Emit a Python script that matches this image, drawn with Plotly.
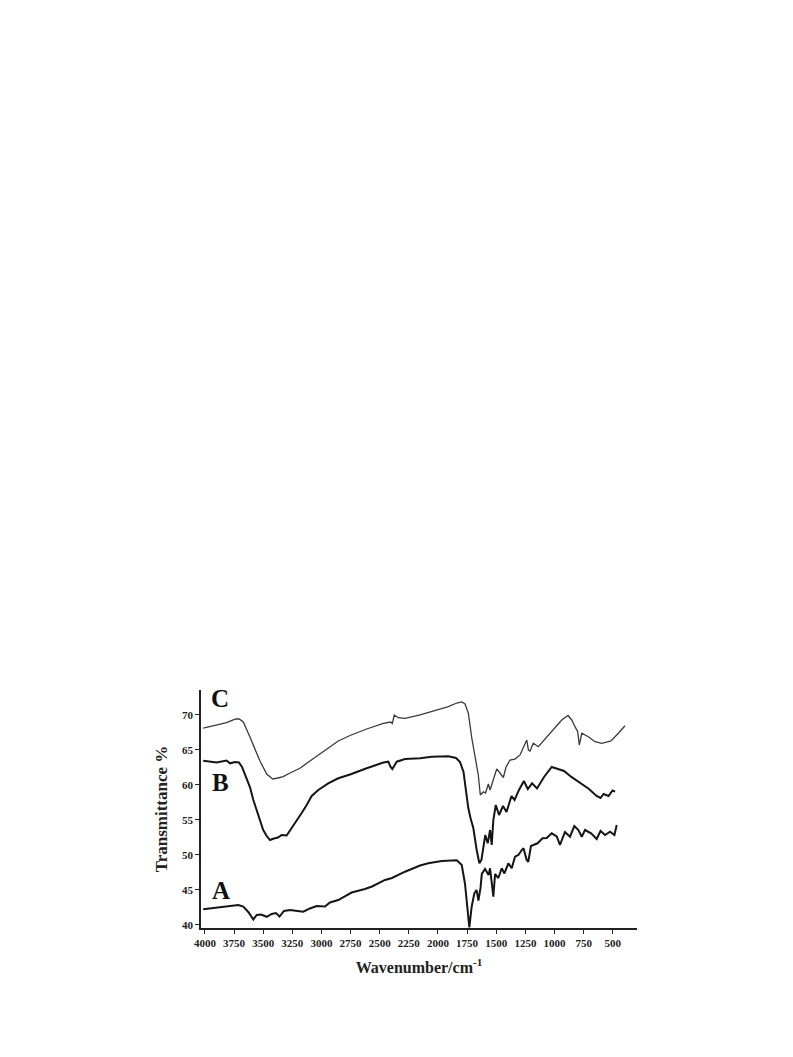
import plotly.graph_objects as go

# Spectrum C (top)
wn_C = [4015, 3914, 3814, 3757, 3734, 3706, 3671, 3614, 3571, 3528, 3470, 3419, 3373, 3328,
        3270, 3185, 3099, 3027, 2942, 2856, 2755, 2612, 2469, 2406, 2392, 2375, 2341, 2283,
        2154, 2054, 1911, 1839, 1796, 1768, 1740, 1710, 1691, 1673, 1654, 1637, 1611, 1592,
        1568, 1553, 1525, 1496, 1468, 1439, 1416, 1382, 1339, 1296, 1238, 1224, 1210, 1182,
        1139, 1096, 1053, 995, 938, 884, 852, 824, 801, 787, 766, 710, 652, 595, 515, 452, 395]
tr_C = [68.14, 68.5, 68.9, 69.29, 69.43, 69.43, 69.0, 66.86, 65.0, 63.43, 61.57, 60.86, 61.0, 61.19,
        61.71, 62.39, 63.43, 64.29, 65.29, 66.29, 67.07, 68.0, 68.79, 69.0, 68.79, 70.0, 69.61, 69.53,
        70.0, 70.47, 71.19, 71.71, 71.86, 71.57, 70.29, 66.71, 65.0, 63.57, 61.43, 58.57, 59.04, 58.86,
        60.14, 59.29, 60.86, 62.29, 61.71, 61.07, 62.57, 63.57, 63.71, 64.29, 66.43, 65.0, 64.86, 65.96,
        65.47, 66.29, 67.14, 68.1, 69.29, 69.93, 69.29, 68.33, 67.61, 65.71, 67.39, 66.9, 66.19, 65.96,
        66.29, 67.39, 68.47]

# Spectrum B (middle)
wn_B = [4015, 3900, 3815, 3785, 3742, 3708, 3682, 3642, 3614, 3585, 3556, 3528, 3500, 3470, 3442,
        3408, 3373, 3342, 3299, 3256, 3213, 3170, 3127, 3084, 3027, 2942, 2856, 2755, 2612, 2469,
        2426, 2408, 2392, 2354, 2283, 2154, 2054, 1911, 1845, 1811, 1781, 1762, 1740, 1721, 1697,
        1668, 1645, 1627, 1610, 1594, 1573, 1553, 1539, 1525, 1504, 1476, 1442, 1412, 1369, 1343,
        1305, 1263, 1229, 1193, 1150, 1090, 1024, 978, 918, 858, 795, 752, 704, 639, 605, 579, 536,
        502, 480]
tr_B = [63.47, 63.21, 63.5, 63.1, 63.29, 63.21, 62.57, 61.0, 59.71, 57.86, 56.43, 55.0, 53.57, 52.71, 52.14,
        52.36, 52.5, 52.86, 52.79, 53.86, 54.86, 56.0, 57.14, 58.43, 59.29, 60.24, 60.96, 61.5, 62.39, 63.21,
        63.33, 62.61, 62.29, 63.33, 63.71, 63.81, 64.04, 64.1, 63.86, 63.29, 61.86, 59.57, 56.71, 55.29, 53.86,
        50.71, 48.81, 49.29, 51.0, 52.86, 51.67, 53.57, 51.43, 55.0, 57.14, 55.71, 57.0, 56.14, 58.43, 57.86,
        59.29, 60.57, 59.43, 60.24, 59.5, 61.14, 62.57, 62.29, 62.0, 61.19, 60.47, 60.0, 59.43, 58.43, 58.14,
        58.71, 58.43, 59.21, 59.04]

# Spectrum A (bottom)
wn_A = [4015, 3900, 3785, 3714, 3671, 3628, 3585, 3556, 3519, 3470, 3427, 3391, 3360, 3322, 3270,
        3213, 3156, 3099, 3041, 2970, 2927, 2856, 2741, 2627, 2566, 2455, 2395, 2283, 2154, 2083,
        1968, 1839, 1796, 1768, 1745, 1731, 1711, 1688, 1669, 1653, 1635, 1624, 1596, 1566, 1553,
        1525, 1510, 1482, 1453, 1430, 1396, 1367, 1339, 1310, 1281, 1266, 1239, 1225, 1202, 1146,
        1103, 1067, 1024, 981, 953, 910, 867, 830, 795, 766, 738, 686, 638, 605, 566, 523, 486, 466]
tr_A = [42.24, 42.47, 42.79, 42.86, 42.64, 41.86, 40.79, 41.43, 41.5, 41.17, 41.57, 41.71, 41.21, 42.0, 42.14,
        42.04, 41.9, 42.36, 42.71, 42.64, 43.21, 43.57, 44.64, 45.14, 45.5, 46.43, 46.71, 47.61, 48.5, 48.81,
        49.14, 49.24, 48.57, 45.86, 42.14, 39.64, 42.61, 44.53, 45.0, 43.5, 45.29, 47.29, 48.0, 47.14, 48.1,
        44.04, 47.29, 46.71, 48.1, 47.36, 48.81, 48.1, 49.76, 50.0, 50.71, 50.96, 49.29, 49.04, 51.29, 51.67,
        52.39, 52.43, 53.1, 52.64, 51.43, 53.29, 52.61, 54.14, 53.57, 52.61, 53.57, 53.1, 52.29, 53.43, 52.86,
        53.33, 52.86, 54.29]

x_ticks = [4000, 3750, 3500, 3250, 3000, 2750, 2500, 2250, 2000, 1750, 1500, 1250, 1000, 750, 500]
y_ticks = [40, 45, 50, 55, 60, 65, 70]

labels = ["C", "B", "A"]
label_wn = [3871, 3863, 3863]
label_tr = [72.4, 60.4, 44.9]

FONT = "Liberation Serif"

fig = go.Figure()
fig.add_trace(go.Scatter(x=wn_C, y=tr_C, mode="lines", line=dict(color="#3a3a3a", width=1.3),
                         showlegend=False, hoverinfo="skip"))
fig.add_trace(go.Scatter(x=wn_B, y=tr_B, mode="lines", line=dict(color="#151515", width=2),
                         showlegend=False, hoverinfo="skip"))
fig.add_trace(go.Scatter(x=wn_A, y=tr_A, mode="lines", line=dict(color="#151515", width=2),
                         showlegend=False, hoverinfo="skip"))

for t, xw, yt in zip(labels, label_wn, label_tr):
    fig.add_annotation(x=xw, y=yt, text=t, showarrow=False, xref="x", yref="y",
                       font=dict(family=FONT, size=25, color="#111", weight="bold"))

fig.update_layout(
    width=793, height=1057,
    margin=dict(l=193, r=164, t=682, b=137),
    paper_bgcolor="white", plot_bgcolor="white",
    font=dict(family=FONT, color="#222"),
    showlegend=False,
)
fig.update_xaxes(
    range=[4034, 292], tickvals=x_ticks, ticks="outside", ticklen=4, tickwidth=1.2,
    tickcolor="#222", showline=True, linecolor="#222", linewidth=1.5, showgrid=False,
    zeroline=False, tickfont=dict(family=FONT, size=11, color="#222", weight="bold"),
    title=dict(text="Wavenumber/cm<sup>-1</sup>", standoff=14,
               font=dict(family=FONT, size=16, color="#222", weight="bold")),
)
fig.update_yaxes(
    range=[39.57, 73.57], tickvals=y_ticks, ticks="outside", ticklen=4, tickwidth=1.2,
    tickcolor="#222", showline=True, linecolor="#222", linewidth=1.5, showgrid=False,
    zeroline=False, tickfont=dict(family=FONT, size=11, color="#222", weight="bold"),
    title=dict(text="Transmittance %", standoff=10,
               font=dict(family=FONT, size=17, color="#222", weight="bold")),
)

fig.write_html("out.html")
